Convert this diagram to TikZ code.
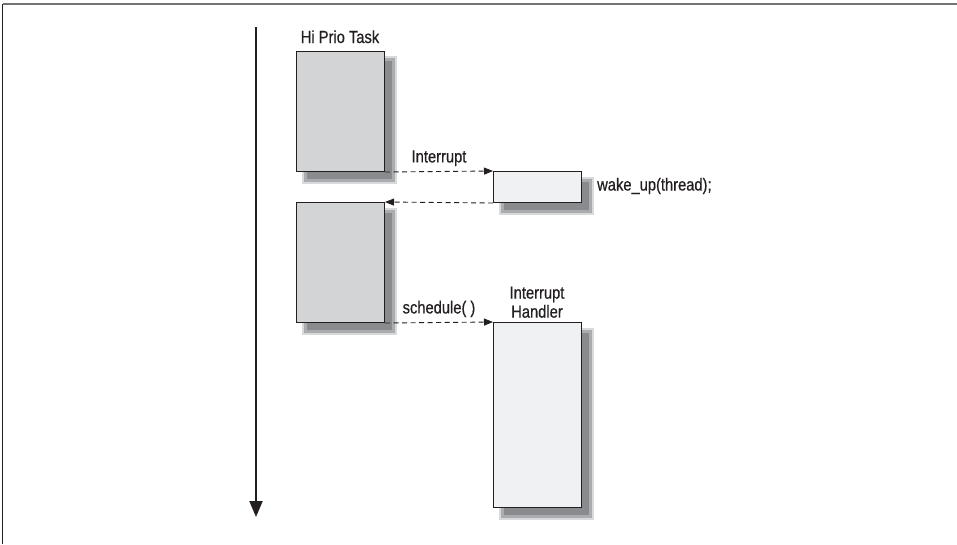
\documentclass[tikz,border=0pt]{standalone}
\usepackage{fontspec}
\setmainfont[FakeStretch=0.84,FakeBold=0.6]{Liberation Sans}
\usetikzlibrary{shadows,arrows.meta}
\definecolor{darkfill}{HTML}{D3D4D6}
\definecolor{lightfill}{HTML}{F0F1F3}
\definecolor{shadowA}{HTML}{8A8B8F}
\definecolor{shadowB}{HTML}{ABACAF}
\definecolor{shadowC}{HTML}{D8D9DB}
\definecolor{inkc}{HTML}{231F20}
\tikzset{
  shadowed/.style={
    general shadow={draw=shadowC, line width=7pt, shadow xshift=8.5pt, shadow yshift=-8.5pt},
    general shadow={fill=shadowA, draw=shadowB, line width=3pt, shadow xshift=8.5pt, shadow yshift=-8.5pt}},
  taskbox/.style={shadowed, draw=inkc, line width=1pt, rectangle, inner sep=0pt, anchor=north west},
  lbl/.style={font=\fontsize{17.5}{19}\selectfont, text=inkc, inner sep=0pt},
  msg/.style={draw=inkc, line width=0.9pt, dash pattern=on 5pt off 3.5pt, -{Triangle[length=9pt,width=7pt]}},
}
\begin{document}
\begin{tikzpicture}[x=1pt,y=-1pt]
\useasboundingbox (0,0) rectangle (957,544);
% frame
\coordinate (f1) at (2.5,544);
\coordinate (f2) at (2.5,4);
\coordinate (f3) at (957,4);
\draw[line width=1.8pt, color=gray!90!black] (f2) -- (f3);
\draw[line width=1.4pt, color=inkc] (f1) -- (f2);
% time arrow
\coordinate (t0) at (256,27);
\coordinate (t1) at (256,517);
\draw[line width=2pt, color=inkc, -{Triangle[length=16pt,width=13pt]}] (t0) -- (t1);
% boxes
\node[taskbox, fill=darkfill, minimum width=88pt, minimum height=120.5pt] (hp) at (296,50.5) {};
\node[taskbox, fill=lightfill, minimum width=88pt, minimum height=31pt] (wk) at (493,171) {};
\node[taskbox, fill=darkfill, minimum width=88pt, minimum height=120pt] (lp) at (296,202) {};
\node[taskbox, fill=lightfill, minimum width=88pt, minimum height=185pt] (ih) at (493,322) {};
% labels
\node[lbl, anchor=base] (hpl) at (340,43) {Hi Prio Task};
\node[lbl, anchor=south, align=center] (ihl) at (537,318) {Interrupt\\Handler};
\node[lbl, anchor=west] (wkl) at (597,186) {wake\_up(thread);};
% messages
\draw[msg] (hp.south east) -- node[lbl, above=5pt] (intl) {Interrupt} (wk.north west);
\draw[msg] (wk.south west) -- (lp.north east);
\draw[msg] (lp.south east) -- node[lbl, above=5pt] (schl) {schedule( )} (ih.north west);
\end{tikzpicture}
\end{document}
